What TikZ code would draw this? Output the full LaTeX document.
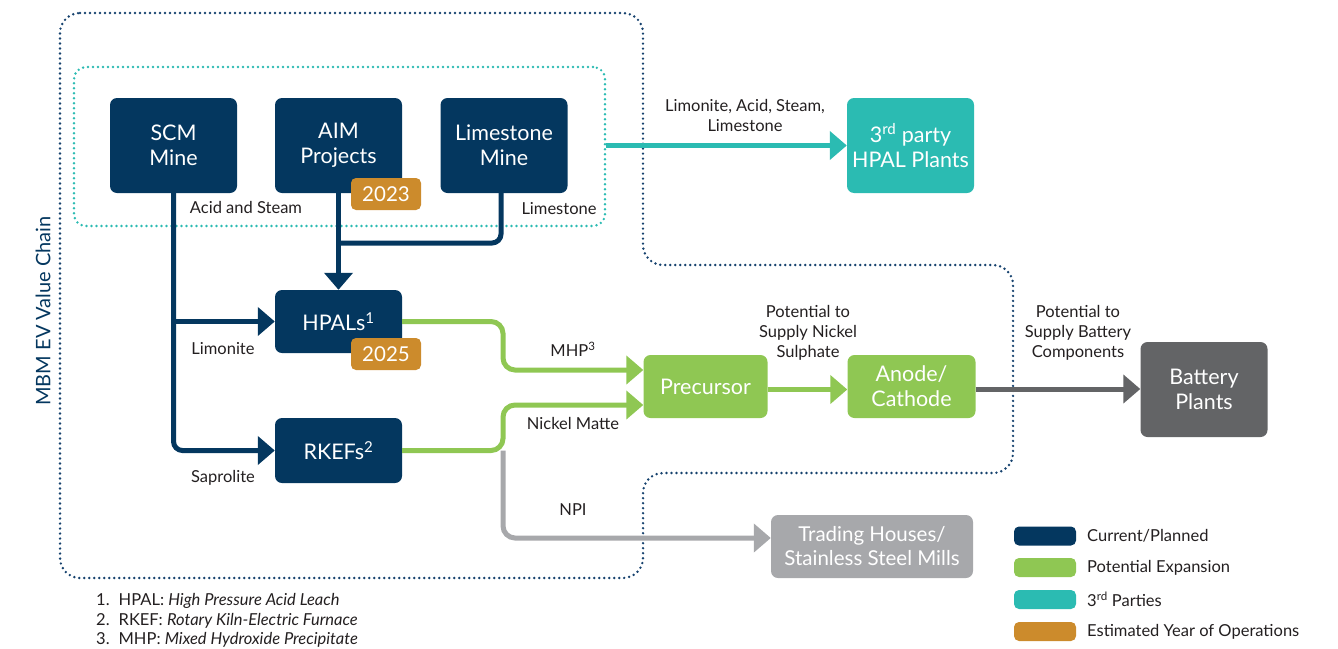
\documentclass[tikz,border=0pt]{standalone}
\usepackage{fontspec}
\setmainfont{Lato}
\usetikzlibrary{arrows.meta,calc}
\definecolor{navy}{HTML}{04375F}
\definecolor{dotnavy}{HTML}{16426E}
\definecolor{lgreen}{HTML}{8FC753}
\definecolor{teal3}{HTML}{2BBBB2}
\definecolor{ochre}{HTML}{CC8B2C}
\definecolor{lgrey}{HTML}{A7A8AB}
\definecolor{dgrey}{HTML}{636466}
\definecolor{txt}{HTML}{231F20}
\tikzset{
  box/.style={rounded corners=7pt, inner sep=0pt, align=center, text=white, font=\fontsize{21.5}{25}\selectfont},
  navybox/.style={box, fill=navy, minimum width=127pt},
  greenbox/.style={box, fill=lgreen},
  badge/.style={rounded corners=5pt, fill=ochre, text=white, inner sep=0pt, minimum width=70pt, minimum height=32pt, font=\fontsize{20.5}{24}\selectfont},
  lbl/.style={font=\fontsize{16.5}{20}\selectfont, text=txt, align=center, inner sep=0pt},
  conn/.style={line width=5pt},
  tip/.style={-{Triangle[length=17pt,width=28pt]}},
  dots/.style={line width=2.7pt, line cap=round, dash pattern=on 0pt off 5pt},
  swatch/.style={rounded corners=5pt, minimum width=62pt, minimum height=19pt, inner sep=0pt},
  legtext/.style={font=\fontsize{16.5}{20}\selectfont, text=txt, anchor=west, inner sep=0pt},
  foot/.style={font=\fontsize{16.5}{19}\selectfont, text=txt, anchor=west, inner sep=0pt}
}
\begin{document}
\begin{tikzpicture}[x=1pt,y=-1pt]
\useasboundingbox (0,0) rectangle (1338,648);
% outer value chain boundary
\draw[dots, dotnavy, rounded corners=20pt] (60,13) -- (643,13) -- (643,265) -- (1013,265) -- (1013,473) -- (643,473) -- (643,578) -- (60,578) -- cycle;
\node[rotate=90, text=navy, font=\fontsize{20}{22}\selectfont] (chain) at (43,311) {MBM EV Value Chain};
% teal dotted mines group
\node[draw=teal3, dots, rounded corners=12pt, minimum width=531pt, minimum height=159pt, inner sep=0pt] (mines) at (339.5,146.5) {};
% boxes
\node[navybox, minimum height=95pt] (scm) at (173.5,145.5) {SCM\\Mine};
\node[navybox, minimum height=95pt] (aim) at (338.5,145.5) {AIM\\Projects};
\node[navybox, minimum height=95pt] (lime) at (504,145.5) {Limestone\\Mine};
\node[badge] (b2023) at (386,194) {2023};
\node[navybox, minimum height=63pt] (hpal) at (338.5,321.5) {HPALs\textsuperscript{1}};
\node[badge] (b2025) at (386,354) {2025};
\node[navybox, minimum height=65pt] (rkef) at (338.5,450.5) {RKEFs\textsuperscript{2}};
\node[greenbox, minimum width=124pt, minimum height=63pt] (prec) at (705.5,386.5) {Precursor};
\node[greenbox, minimum width=128pt, minimum height=63pt] (anode) at (911.5,386.5) {Anode/\\Cathode};
\node[box, fill=dgrey, minimum width=127pt, minimum height=95pt] (battery) at (1204,389.5) {Battery\\Plants};
\node[box, fill=teal3, minimum width=127pt, minimum height=95pt] (third) at (910.5,145.5) {3\textsuperscript{rd} party\\HPAL Plants};
\node[box, fill=lgrey, minimum width=202pt, minimum height=63pt, font=\fontsize{20.5}{24}\selectfont] (trading) at (872,546.5) {Trading Houses/\\Stainless Steel Mills};
% junction coordinates
\coordinate (limej) at (338.5,243);
\coordinate (gj1) at (503,321.5);
\coordinate (gj2) at (503,450.5);
% navy connectors
\draw[conn, navy, tip] (scm.south) |- (hpal.west);
\draw[conn, navy, tip, rounded corners=9pt] (scm.south) |- (rkef.west);
\draw[conn, navy, tip] (aim.south) -- (hpal.north);
\draw[conn, navy, rounded corners=9pt] ([xshift=-3pt]lime.south) |- (limej);
% teal connector
\draw[conn, teal3, tip] (mines.east |- third.west) -- (third.west);
% grey NPI
\draw[conn, lgrey, tip, rounded corners=12pt] (gj2) |- ($(trading.west)+(0,-8.5)$);
% green connectors
\draw[conn, lgreen, tip, rounded corners=12pt] (hpal.east) -- (gj1) |- ($(prec.west)+(0,-16.5)$);
\draw[conn, lgreen, tip, rounded corners=12pt] (rkef.east) -- (gj2) |- ($(prec.west)+(0,18.5)$);
\draw[conn, lgreen, tip] ($(prec.east)+(0,3)$) -- ($(anode.west)+(0,3)$);
\coordinate (ae) at ($(anode.east)+(0,2.5)$);
\draw[conn, dgrey, tip] (ae) -- (battery.west |- ae);
% labels
\node[lbl] (l1) at (246,207) {Acid and Steam};
\node[lbl] (l2) at (559,209) {Limestone};
\node[lbl] (l3) at (223,349) {Limonite};
\node[lbl] (l4) at (223,478) {Saprolite};
\node[lbl] (l5) at (573,349) {MHP\textsuperscript{3}};
\node[lbl] (l6) at (573,423) {Nickel Matte};
\node[lbl] (l7) at (573,510) {NPI};
\node[lbl] (l8) at (745,115) {Limonite, Acid, Steam,\\Limestone};
\node[lbl] (l9) at (808,333) {Potential to\\Supply Nickel\\Sulphate};
\node[lbl] (l10) at (1078,333) {Potential to\\Supply Battery\\Components};
% legend
\node[swatch, fill=navy] (s1) at (1045,536) {};
\node[swatch, fill=lgreen] (s2) at (1045,567.5) {};
\node[swatch, fill=teal3] (s3) at (1045,599.5) {};
\node[swatch, fill=ochre] (s4) at (1045,631.5) {};
\node[legtext] (t1) at (1087,536) {Current/Planned};
\node[legtext] (t2) at (1087,567.5) {Potential Expansion};
\node[legtext] (t3) at (1087,599.5) {3\textsuperscript{rd} Parties};
\node[legtext] (t4) at (1087,631.5) {Estimated Year of Operations};
% footnotes
\node[foot] (f1) at (96,601) {1.\hspace{9pt}HPAL: \textit{High Pressure Acid Leach}};
\node[foot] (f2) at (96,620.5) {2.\hspace{9pt}RKEF: \textit{Rotary Kiln-Electric Furnace}};
\node[foot] (f3) at (96,640) {3.\hspace{9pt}MHP: \textit{Mixed Hydroxide Precipitate}};
\end{tikzpicture}
\end{document}
